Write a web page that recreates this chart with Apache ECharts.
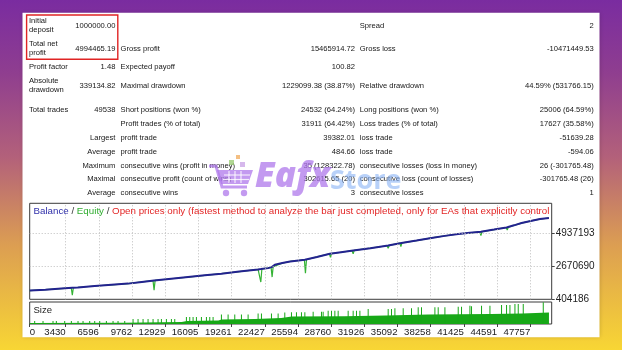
<!DOCTYPE html>
<html><head><meta charset="utf-8">
<script src="https://cdn.jsdelivr.net/npm/echarts@6/dist/echarts.min.js"></script>
<style>html,body{margin:0;padding:0;width:622px;height:350px;overflow:hidden}#c{width:622px;height:350px}</style>
</head><body><div id="c"></div>
<script>
// ---------- DATA ----------
const balanceTrades = [0,1500,3016,4066,4600,6204,7800,9383,10700,11865,13500,15110,16700,18288,20000,21791,22049,22746,23127,23385,24100,24845,26249,27400,28635,29700,30859,32500,34200,35470,36900,38333,39600,40882,42000,43048,44300,45492,46200,46924,47800,48680,49538];
const balanceValues = [1000000,1060000,1137000,1190000,1215000,1313000,1395000,1476000,1590000,1690000,1810000,1924000,2040000,2155000,2300000,2447000,2470000,2535000,2620000,2766000,2880000,2990000,3105000,3300000,3512000,3620000,3736000,3900000,4075000,4259000,4420000,4598000,4740000,4869000,4950000,5025000,5170000,5317000,5460000,5616000,5760000,5887000,5960000];

const equityTrades = [0,1500,3016,3966,4066,4166,6204,7800,9383,10700,11765,11865,11965,13500,15110,16700,18288,20000,21791,21949,22049,22149,22746,23027,23127,23227,23385,24100,24845,26206,26306,26406,27400,28592,28692,28792,29700,30759,30859,30959,32500,34100,34200,34300,35312,35412,35512,36900,38333,39600,40882,42000,42948,43048,43148,44300,45459,45559,45659,46200,46924,47800,48680,49538];
const equityValues = [1000000,1060000,1137000,1185000,682000,1195000,1313000,1395000,1476000,1590000,1680000,1022000,1702000,1810000,1924000,2040000,2155000,2300000,2447000,2460000,1585000,2480000,2535000,2600000,1924000,2640000,2766000,2880000,2990000,3100000,2196000,3110000,3300000,3505000,3281000,3520000,3620000,3725000,3512000,3745000,3900000,4065000,3892000,4085000,4245000,4008000,4262000,4420000,4598000,4740000,4869000,4950000,5018000,4754000,5032000,5170000,5310000,5141000,5330000,5460000,5616000,5760000,5887000,5960000];

const sizeBaseTrades = [0,9000,14500,15000,18000,18300,21500,24000,25000,30000,34000,38000,44000,47000,49538];
const sizeBaseValues = [1,1.3,2,3,3.5,4.5,5,6,7.5,7.8,8.5,9.5,10,10.5,11.5];

const sizeSpikeTrades = [474,1270,2224,2542,3338,3974,4610,5088,5724,6201,6679,7315,7951,8428,9065,9860,10337,10815,11292,11769,12246,12564,13041,13519,13837,14950,15269,15587,15905,16382,16860,17178,17496,18291,18928,19564,20200,20837,21791,22109,23064,23700,24336,24973,25450,25927,26249,27042,27836,27995,28474,28791,29112,29428,30382,30859,31176,31500,32291,34200,34516,34841,35632,36425,37064,37378,38657,38972,39612,40882,41197,41998,42151,43106,43908,45015,45492,45816,46293,46608,47086,48995];
const sizeSpikeValues = [3,3,3,3,3,3,3,3,3,3,3,3,3,3,3,5,5,5,5,5,5,5,5,5,5,7,7,7,7,7,7,7,7,9.5,9.5,9.5,9.5,9.5,10.5,10.5,10.5,10.5,11.5,11.7,11.7,11.7,11.7,12.3,12.3,12.3,13.3,13.3,13.3,13.3,13.3,13.3,13.3,13.3,15,15,15,15.7,15.7,15.7,16.7,16.7,16.7,16.7,16.7,17.3,17.3,18.3,17.7,18.3,18.3,19,19,19,20,20,20,21.7];

const xTickValues = [0,3430,6596,9762,12929,16095,19261,22427,25594,28760,31926,35092,38258,41425,44591,47757];
const yTickValues = [404186,2670690,4937193];

const reportLabelsLeft  = ['Initial\ndeposit','Total net\nprofit','Profit factor','Absolute\ndrawdown','Total trades','','Largest','Average','Maximum','Maximal','Average'];
const reportValuesLeft  = ['1000000.00','4994465.19','1.48','339134.82','49538','','','','','',''];
const reportLabelsMid   = ['','Gross profit','Expected payoff','Maximal drawdown','Short positions (won %)','Profit trades (% of total)','profit trade','profit trade','consecutive wins (profit in money)','consecutive profit (count of wins)','consecutive wins'];
const reportValuesMid   = ['','15465914.72','100.82','1229099.38 (38.87%)','24532 (64.24%)','31911 (64.42%)','39382.01','484.66','35 (128322.78)','302615.65 (20)','3'];
const reportLabelsRight = ['Spread','Gross loss','','Relative drawdown','Long positions (won %)','Loss trades (% of total)','loss trade','loss trade','consecutive losses (loss in money)','consecutive loss (count of losses)','consecutive losses'];
const reportValuesRight = ['2','-10471449.53','','44.59% (531766.15)','25006 (64.59%)','17627 (35.58%)','-51639.28','-594.06','26 (-301765.48)','-301765.48 (26)','1'];

const legendParts = ['Balance',' / ','Equity',' / ','Open prices only (fastest method to analyze the bar just completed, only for EAs that explicitly control bar opening)'];
const sizeTitle = 'Size';

// ---------- LAYOUT ----------
const FONT = '"Liberation Sans", Arial, sans-serif';
const rowY = [25.7,48.7,66.7,85.7,110,124,137.7,151.7,165.7,179.3,193.3];
const zip = (a,b) => a.map((v,i)=>[v,b[i]]);

const graphics = [];
graphics.push({type:'rect', z:-10, shape:{x:22.5,y:12.7,width:577,height:324.6}, style:{fill:'#ffffff', shadowBlur:4, shadowColor:'rgba(0,0,0,0.15)'}});
const txt = (t,x,y,align) => ({type:'text', z:5, style:{text:t, x:x, y:y, fill:'#161616', font:'7.6px '+FONT, align:align, verticalAlign:'middle', lineHeight:9.4}});
rowY.forEach((y,i)=>{
  if (reportLabelsLeft[i]) graphics.push(txt(reportLabelsLeft[i], i>=6?115.4:29, y, i>=6?'right':'left'));
  if (reportValuesLeft[i]) graphics.push(txt(reportValuesLeft[i], 115.4, y, 'right'));
  if (reportLabelsMid[i]) graphics.push(txt(reportLabelsMid[i], 120.6, y, 'left'));
  if (reportValuesMid[i]) graphics.push(txt(reportValuesMid[i], 355, y, 'right'));
  if (reportLabelsRight[i]) graphics.push(txt(reportLabelsRight[i], 359.8, y, 'left'));
  if (reportValuesRight[i]) graphics.push(txt(reportValuesRight[i], 593.8, y, 'right'));
});
graphics.push({type:'rect', z:10, shape:{x:26.6,y:15,width:91.2,height:44.3}, style:{fill:'none', stroke:'#e02424', lineWidth:1.4}});
graphics.push({type:'text', z:10, style:{text:sizeTitle, x:33.5, y:310.5, fill:'#222', font:'9.5px '+FONT, verticalAlign:'middle'}});
// watermark
const wm = 'rgba(175,120,235,0.75)';
graphics.push({type:'polyline', z:50, shape:{points:[[209,166],[216,166],[222,187],[247,187]]}, style:{stroke:wm, lineWidth:3, fill:'none'}});
graphics.push({type:'polygon', z:50, shape:{points:[[217,170],[253,170],[248,184],[221,184]]}, style:{fill:wm}});
graphics.push({type:'polyline', z:51, shape:{points:[[224,175],[250,175]]}, style:{stroke:'rgba(255,255,255,0.8)', lineWidth:1.2}});
graphics.push({type:'polyline', z:51, shape:{points:[[223,179.5],[249,179.5]]}, style:{stroke:'rgba(255,255,255,0.8)', lineWidth:1.2}});
[229,235,241].forEach(x=>graphics.push({type:'polyline', z:51, shape:{points:[[x,171],[x,183]]}, style:{stroke:'rgba(255,255,255,0.8)', lineWidth:1.2}}));
graphics.push({type:'circle', z:50, shape:{cx:226,cy:193,r:3.2}, style:{fill:wm}});
graphics.push({type:'circle', z:50, shape:{cx:244,cy:193,r:3.2}, style:{fill:wm}});
graphics.push({type:'rect', z:50, shape:{x:229,y:160,width:5,height:5}, style:{fill:'rgba(150,200,110,0.75)'}});
graphics.push({type:'rect', z:50, shape:{x:236,y:155,width:4,height:4}, style:{fill:'rgba(240,170,90,0.75)'}});
graphics.push({type:'rect', z:50, shape:{x:240,y:162,width:5,height:5}, style:{fill:'rgba(200,160,230,0.75)'}});
graphics.push({type:'text', z:50, style:{text:'Eafx', x:255, y:195, fill:wm, font:'italic 800 35px "Open Sans", sans-serif', verticalAlign:'bottom'}});
graphics.push({type:'text', z:50, style:{text:'Store', x:330, y:195, fill:'rgba(140,180,245,0.62)', font:'700 27px "Open Sans", sans-serif', verticalAlign:'bottom'}});

// legend line built from several titles; the last one is cut at the chart's right border
const legendColors = ['#3030aa','#333333','#30ad30','#333333','#e32626'];
const LEG_FS = 9.75, LEG_LEFT = 33.5, LEG_RIGHT = 551.5;
const mctx = document.createElement('canvas').getContext('2d');
mctx.font = LEG_FS + 'px ' + FONT;
let cursor = LEG_LEFT;
const titles = legendParts.map((t,i)=>{
  const o = {left:cursor, top:206.5, padding:0, text:t,
    textStyle:{color:legendColors[i], fontFamily:FONT, fontSize:LEG_FS, fontWeight:'normal'}};
  if (i === legendParts.length-1) {
    Object.assign(o.textStyle, {width:LEG_RIGHT-cursor, overflow:'truncate', ellipsis:''});
  }
  cursor += mctx.measureText(t).width;
  return o;
});

const gridLineStyle = {color:'#bdbdbd', type:[1,2], width:1};

const option = {
  animation:false,
  backgroundColor:{type:'linear',x:0,y:0,x2:0,y2:1,colorStops:[
    {offset:0,color:'#7a2ca0'},{offset:0.2,color:'#8e3d90'},{offset:0.45,color:'#b3617a'},{offset:0.7,color:'#dc9e52'},{offset:1,color:'#f8d634'}]},
  title:titles,
  grid:[
    {left:29.7, top:203.3, width:522, height:96, show:true, borderColor:'#3a3a3a', borderWidth:1, backgroundColor:'#fff'},
    {left:29.7, top:302, width:522, height:22, show:true, borderColor:'#3a3a3a', borderWidth:1, backgroundColor:'#fff'}
  ],
  xAxis:[
    {type:'value', gridIndex:0, min:0, max:49800, axisLine:{show:false, onZero:false}, axisLabel:{show:false},
     axisTick:{show:false}, splitLine:{show:false}},
    {type:'value', gridIndex:1, min:0, max:49800, axisLine:{show:false, onZero:false}, splitLine:{show:false},
     axisTick:{show:true, length:3, customValues:xTickValues, lineStyle:{color:'#444'}},
     axisLabel:{customValues:xTickValues, formatter:v=>String(v), align:'right', alignMinLabel:'left', margin:3,
       color:'#222', fontSize:9.6, fontFamily:FONT}}
  ],
  yAxis:[
    {type:'value', gridIndex:0, position:'right', min:404186, max:6966000, axisLine:{show:false, onZero:false},
     axisTick:{show:true, length:3, customValues:yTickValues, lineStyle:{color:'#444'}},
     axisLabel:{customValues:yTickValues, formatter:v=>String(v), margin:4, color:'#222', fontSize:10, fontFamily:FONT},
     splitLine:{show:false}},
    {type:'value', gridIndex:1, min:0, max:22, show:false, axisLine:{onZero:false}, splitLine:{show:false}}
  ],
  graphic:{elements:graphics},
  series:[
    {type:'line', xAxisIndex:0, yAxisIndex:0, data:[], symbol:'none', z:2, silent:true,
     markLine:{silent:true, symbol:'none', label:{show:false}, lineStyle:gridLineStyle, animation:false,
       data:xTickValues.slice(1).map(v=>({xAxis:v})).concat(yTickValues.slice(1).map(v=>({yAxis:v})))}},
    {type:'line', xAxisIndex:0, yAxisIndex:0, data:zip(equityTrades,equityValues), symbol:'none', z:3,
     lineStyle:{color:'#35b335', width:1.2}},
    {type:'line', xAxisIndex:0, yAxisIndex:0, data:zip(balanceTrades,balanceValues), symbol:'none', z:4,
     lineStyle:{color:'#23238f', width:2}},
    {type:'line', xAxisIndex:1, yAxisIndex:1, data:zip(sizeBaseTrades,sizeBaseValues), symbol:'none', z:3,
     lineStyle:{width:0}, areaStyle:{color:'#17a817', opacity:1}},
    {type:'bar', xAxisIndex:1, yAxisIndex:1, data:zip(sizeSpikeTrades,sizeSpikeValues), barWidth:1, z:3,
     itemStyle:{color:'#17a817'}}
  ]
};
const chart = echarts.init(document.getElementById('c'), null, {renderer:'canvas'});
chart.setOption(option);
</script></body></html>
